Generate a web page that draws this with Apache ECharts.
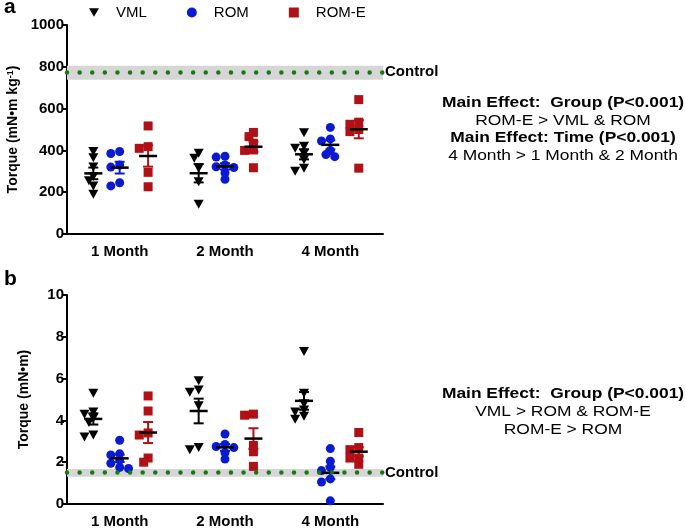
<!DOCTYPE html>
<html>
<head>
<meta charset="utf-8">
<script src="https://cdn.jsdelivr.net/npm/echarts@6/dist/echarts.min.js"></script>
<style>
  html, body { margin: 0; padding: 0; background: #fff; }
  #main { width: 685px; height: 529px; }
</style>
</head>
<body>
<div id="main"></div>
<script>
var months = ['1 Month', '2 Month', '4 Month'];
var groups = ['VML', 'ROM', 'ROM-E'];

// panel a: torque normalised to body mass (mN•m kg-1), one list per month
var vmlNorm = [[395, 365, 320, 275, 255, 230, 190], [386, 362, 314, 250, 142], [485, 420, 410, 385, 355, 315, 300]];
var romNorm = [[395, 385, 330, 320, 245, 230], [372, 368, 330, 322, 318, 292, 262], [510, 455, 445, 400, 380, 370]];
var romeNorm = [[517, 418, 410, 295, 226], [486, 466, 434, 402, 400, 317], [643, 535, 525, 500, 490, 315]];
var controlNorm = [738, 776, 805]; // low, mean, high

// panel b: absolute torque (mN•m)
var vmlAbs = [[5.3, 4.4, 4.3, 4.1, 3.9, 3.3, 3.2], [5.9, 5.45, 5.35, 4.7, 2.6, 2.7], [7.3, 5.3, 4.8, 4.5, 4.4, 4.05, 4.2]];
var romAbs = [[3.05, 2.4, 2.35, 2.1, 1.95, 1.75, 1.7], [3.35, 2.85, 2.75, 2.7, 2.45, 2.15], [2.65, 2.05, 1.75, 1.6, 1.2, 1.05, 0.15]];
var romeAbs = [[5.17, 4.45, 3.4, 3.3, 2.0, 2.2], [4.3, 4.25, 2.8, 2.5, 1.8], [3.42, 2.7, 2.6, 2.2, 2.2, 1.9]];
var controlAbs = [1.3, 1.5, 1.68];

var yTicksA = [0, 1000, 200];
var yTicksB = [0, 10, 2];

var colors = { 'VML': '#000000', 'ROM': '#0a1ad0', 'ROM-E': '#b01016' };
var symbols = { 'VML': 'path://M0,0L10,0L5,8.7Z', 'ROM': 'circle', 'ROM-E': 'rect' };
var offsets = { 'VML': -0.25, 'ROM': 0, 'ROM-E': 0.27 };
var FONT = 'Liberation Sans, Arial, sans-serif';

var chartDom = document.getElementById('main');
var myChart = echarts.init(chartDom);

var gridW = 316, gridH = 209;
var xPx = gridW / 3;

// simple beeswarm spread so overlapping points sit side by side
function swarm(vals, center, yPx) {
  var sorted = vals.slice().sort(function (a, b) { return b - a; });
  var placed = [];
  sorted.forEach(function (v) {
    for (var k = 0; k < 12; k++) {
      var off = k === 0 ? 0 : (k % 2 ? -1 : 1) * Math.ceil(k / 2);
      var x = center + off * 0.042;
      var hit = placed.some(function (p) {
        var dx = (x - p[0]) * xPx, dy = (v - p[1]) * yPx;
        return dx * dx + dy * dy < 36;
      });
      if (!hit) { placed.push([x, v]); break; }
    }
  });
  return placed;
}

function meanSem(vals) {
  var n = vals.length;
  var m = vals.reduce(function (a, b) { return a + b; }, 0) / n;
  var sd = Math.sqrt(vals.reduce(function (a, b) { return a + (b - m) * (b - m); }, 0) / (n - 1));
  return [m, sd / Math.sqrt(n)];
}

function renderMean(barColor) {
  return function (params, api) {
    var x = api.value(0), m = api.value(1), s = api.value(2);
    var c = api.coord([x, m]);
    var t = api.coord([x, m + s]);
    var b = api.coord([x, m - s]);
    var st = { stroke: barColor, lineWidth: 2 };
    return {
      type: 'group',
      children: [
        { type: 'line', shape: { x1: c[0], y1: t[1], x2: c[0], y2: b[1] }, style: st },
        { type: 'line', shape: { x1: c[0] - 5, y1: t[1], x2: c[0] + 5, y2: t[1] }, style: st },
        { type: 'line', shape: { x1: c[0] - 5, y1: b[1], x2: c[0] + 5, y2: b[1] }, style: st },
        { type: 'line', shape: { x1: c[0] - 9, y1: c[1], x2: c[0] + 9, y2: c[1] }, style: { stroke: '#000', lineWidth: 2.5 } }
      ]
    };
  };
}

function panelSeries(dataSets, xIdx, yIdx, yPx, control) {
  var out = [];
  groups.forEach(function (g, gi) {
    var pts = [], stats = [];
    dataSets[gi].forEach(function (vals, mi) {
      var center = mi + 0.5 + offsets[g];
      pts = pts.concat(swarm(vals, center, yPx));
      var ms = meanSem(vals);
      stats.push([center, ms[0], ms[1]]);
    });
    var sc = {
      name: g,
      type: 'scatter',
      xAxisIndex: xIdx,
      yAxisIndex: yIdx,
      symbol: symbols[g],
      symbolSize: g === 'VML' ? [10, 9] : 9,
      itemStyle: { color: colors[g], opacity: 1 },
      z: 3,
      data: pts
    };
    if (gi === 0) {
      sc.markArea = {
        silent: true,
        itemStyle: { color: '#d6d6d6' },
        data: [[{ yAxis: control[0] }, { yAxis: control[2] }]]
      };
      sc.markLine = {
        silent: true,
        symbol: 'none',
        lineStyle: { color: '#157a15', width: 4.5, type: [0.01, 12.6], cap: 'round' },
        label: { show: true, position: 'end', formatter: 'Control', color: '#000', fontFamily: FONT, fontWeight: 'bold', fontSize: 15, distance: 2 },
        data: [{ yAxis: control[1] }]
      };
    }
    out.push(sc);
    out.push({
      name: g,
      type: 'custom',
      xAxisIndex: xIdx,
      yAxisIndex: yIdx,
      z: 4,
      renderItem: renderMean(colors[g]),
      encode: { x: 0, y: 1 },
      data: stats
    });
  });
  return out;
}

function catAxis(gridIndex) {
  return {
    type: 'category',
    gridIndex: gridIndex,
    data: months,
    boundaryGap: true,
    axisLine: { lineStyle: { color: '#000', width: 2 } },
    axisTick: { alignWithLabel: true, length: 5, lineStyle: { color: '#000', width: 2 } },
    axisLabel: { color: '#000', fontFamily: FONT, fontWeight: 'bold', fontSize: 15, margin: 10 },
    splitLine: { show: false }
  };
}

function valXAxis(gridIndex) {
  return { type: 'value', gridIndex: gridIndex, min: 0, max: 3, show: false, splitLine: { show: false } };
}

function yAxis(gridIndex, ticks, name, nameGap) {
  return {
    type: 'value',
    gridIndex: gridIndex,
    min: ticks[0],
    max: ticks[1],
    interval: ticks[2],
    name: name,
    nameLocation: 'middle',
    nameGap: nameGap,
    nameTextStyle: {
      color: '#000', fontFamily: FONT, fontWeight: 'bold', fontSize: 14,
      rich: { sup: { fontSize: 9, fontWeight: 'bold', fontFamily: FONT, color: '#000', verticalAlign: 'top', padding: [0, 0, 6, 0] } }
    },
    axisLine: { show: true, lineStyle: { color: '#000', width: 2 } },
    axisTick: { show: true, length: 5, lineStyle: { color: '#000', width: 2 } },
    axisLabel: {
      color: '#000', fontFamily: FONT, fontWeight: 'bold', fontSize: 15, margin: 3,
      formatter: function (v) { return String(v); }
    },
    splitLine: { show: false }
  };
}

function textLine(str, x, y, bold) {
  return {
    type: 'text', x: x, y: y, scaleX: 1.2,
    style: { text: str, fill: '#000', textAlign: 'center', textVerticalAlign: 'middle', font: (bold ? 'bold ' : '') + '14.5px ' + FONT }
  };
}

var option = {
  animation: false,
  backgroundColor: '#fff',
  textStyle: { fontFamily: FONT },
  legend: {
    left: 84,
    top: 0,
    itemWidth: 10,
    itemHeight: 10,
    itemGap: 40,
    textStyle: { color: '#000', fontFamily: FONT, fontSize: 15, padding: [0, 0, 0, 12] },
    data: [
      { name: 'VML', icon: symbols['VML'] },
      { name: 'ROM', icon: 'circle' },
      { name: 'ROM-E', icon: 'rect' }
    ]
  },
  grid: [
    { left: 67, top: 25, width: gridW, height: gridH },
    { left: 67, top: 295, width: gridW, height: gridH }
  ],
  xAxis: [catAxis(0), valXAxis(0), catAxis(1), valXAxis(1)],
  yAxis: [
    yAxis(0, yTicksA, 'Torque (mN•m kg{sup|-1})', 46),
    yAxis(1, yTicksB, 'Torque (mN•m)', 36)
  ],
  graphic: [
    { type: 'text', x: 4, y: -3, style: { text: 'a', fill: '#000', font: 'bold 21px ' + FONT } },
    { type: 'text', x: 4, y: 269, style: { text: 'b', fill: '#000', font: 'bold 21px ' + FONT } },
    textLine('Main Effect:  Group (P<0.001)', 563, 103, true),
    textLine('ROM-E > VML & ROM', 563, 121, false),
    textLine('Main Effect: Time (P<0.001)', 563, 138, true),
    textLine('4 Month > 1 Month & 2 Month', 563, 156, false),
    textLine('Main Effect:  Group (P<0.001)', 563, 394, true),
    textLine('VML > ROM & ROM-E', 563, 412, false),
    textLine('ROM-E > ROM', 563, 430, false)
  ],
  series: panelSeries([vmlNorm, romNorm, romeNorm], 1, 0, gridH / 1000, controlNorm)
    .concat(panelSeries([vmlAbs, romAbs, romeAbs], 3, 1, gridH / 10, controlAbs))
};

option && myChart.setOption(option);
</script>
</body>
</html>
